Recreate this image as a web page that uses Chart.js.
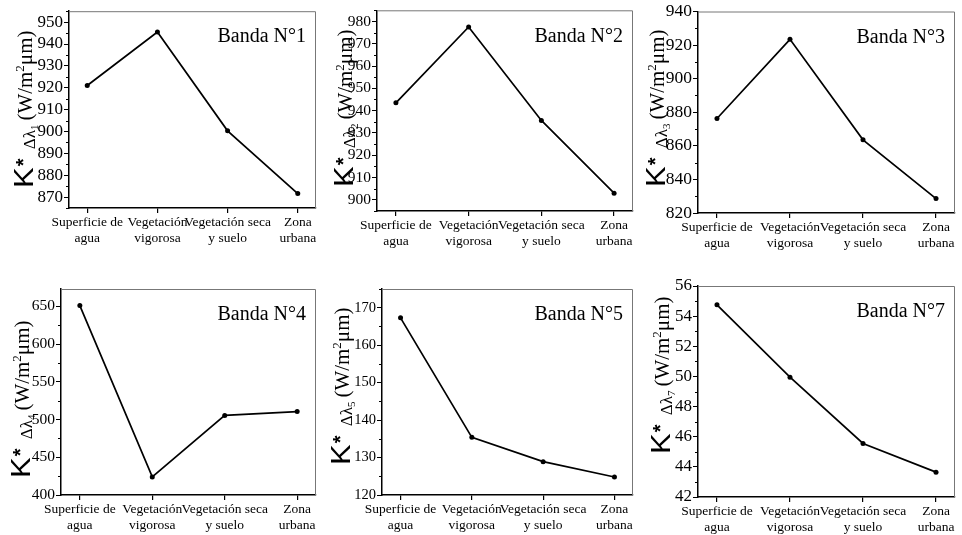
<!DOCTYPE html>
<html>
<head>
<meta charset="utf-8">
<script src="https://cdn.jsdelivr.net/npm/chart.js@4"></script>
<style>
  html, body { margin: 0; padding: 0; background: #fff; }
  body { width: 962px; height: 535px; position: relative; overflow: hidden; }
  canvas { position: absolute; }
</style>
</head>
<body>
<script>
// --- DATA ---
const categories = [
  ["Superficie de", "agua"],
  ["Vegetación", "vigorosa"],
  ["Vegetación seca", "y suelo"],
  ["Zona", "urbana"],
];
const band1 = [921, 945.5, 900.3, 871.6];
const band2 = [943.5, 977.5, 935.6, 903];
const band3 = [876.3, 923.4, 863.6, 828.6];
const band4 = [651, 424, 505.5, 510.5];
const band5 = [167.3, 135.4, 128.9, 124.8];
const band7 = [54.75, 49.95, 45.55, 43.65];
const bandTitles = ["Banda N°1", "Banda N°2", "Banda N°3", "Banda N°4", "Banda N°5", "Banda N°7"];
const bandIndex = ["1", "2", "3", "4", "5", "7"];

// y axis: [min, max, major step, minor step]
const yRanges = [
  [865, 955, 10, 5],
  [895, 985, 10, 5],
  [820, 940, 20, 10],
  [400, 673, 50, 25],
  [120, 175, 10, 5],
  [42, 56, 2, 1],
];
const series = [band1, band2, band3, band4, band5, band7];

// --- LAYOUT (canvas boxes, plot area offsets, label anchor, tick font) ---
const panels = [
  { x: 0,   y: 0,   w: 320, h: 260, yw: 69, top: 9,  right: 4, xh: 52, lx: 33, ly: 188, tf: 17 },
  { x: 320, y: 0,   w: 318, h: 260, yw: 57, top: 9,  right: 5, xh: 49, lx: 33, ly: 187, tf: 15.5 },
  { x: 638, y: 0,   w: 324, h: 260, yw: 60, top: 9,  right: 7, xh: 47, lx: 27, ly: 187, tf: 17.5 },
  { x: 0,   y: 265, w: 320, h: 270, yw: 61, top: 24, right: 2, xh: 40, lx: 30, ly: 213, tf: 15.5 },
  { x: 320, y: 265, w: 318, h: 270, yw: 62, top: 24, right: 5, xh: 40, lx: 30, ly: 200, tf: 14.5 },
  { x: 638, y: 265, w: 324, h: 270, yw: 60, top: 21, right: 7, xh: 38, lx: 32, ly: 189, tf: 17 },
];

const SERIF = '"Liberation Serif", "Times New Roman", serif';
const SANS = '"Liberation Sans", Arial, sans-serif';

Chart.defaults.color = "#000";

function majorTicks(r) {
  const out = [];
  for (let v = Math.ceil(r[0] / r[2]) * r[2]; v <= r[1] + 1e-9; v += r[2]) out.push({ value: v });
  return out;
}

// frame, minor ticks, band title and the y axis label
const decorPlugin = {
  id: "decor",
  afterDraw(chart, args, opts) {
    const ctx = chart.ctx;
    const a = chart.chartArea;
    const yScale = chart.scales.y;
    const i = opts.index;
    const p = panels[i];

    ctx.save();
    // top / right frame lines
    ctx.strokeStyle = "#777";
    ctx.lineWidth = 1;
    ctx.beginPath();
    ctx.moveTo(a.left, a.top + 0.5);
    ctx.lineTo(a.right - 0.5, a.top + 0.5);
    ctx.lineTo(a.right - 0.5, a.bottom);
    ctx.stroke();

    // minor ticks
    const r = yRanges[i];
    ctx.strokeStyle = "#000";
    ctx.lineWidth = 1;
    ctx.beginPath();
    for (let v = Math.ceil(r[0] / r[3]) * r[3]; v <= r[1] + 1e-9; v += r[3]) {
      const rem = Math.abs(v / r[2] - Math.round(v / r[2]));
      if (rem < 1e-6) continue;
      const py = Math.round(yScale.getPixelForValue(v)) + 0.5;
      ctx.moveTo(a.left - 3, py);
      ctx.lineTo(a.left, py);
    }
    ctx.stroke();

    // band title
    ctx.fillStyle = "#000";
    ctx.font = "20px " + SERIF;
    ctx.textAlign = "right";
    ctx.textBaseline = "middle";
    ctx.fillText(bandTitles[i], a.right - 10, a.top + 26);

    // y axis label: K*Δλn (W/m²μm)
    ctx.translate(p.lx, p.ly);
    ctx.rotate(-Math.PI / 2);
    ctx.textAlign = "left";
    ctx.textBaseline = "alphabetic";
    let x = 0;
    ctx.save();
    ctx.scale(1.15, 1);
    ctx.font = "27px " + SANS;
    ctx.fillText("K", 0, 0);
    x += ctx.measureText("K").width * 1.15;
    ctx.restore();
    ctx.font = "bold 20px " + SANS;
    ctx.fillText("*", x + 1, -3);
    x += 18;
    ctx.font = "17px " + SERIF;
    ctx.fillText("Δλ", x, 2);
    x += ctx.measureText("Δλ").width;
    ctx.font = "11px " + SERIF;
    ctx.fillText(bandIndex[i], x, 5);
    x += ctx.measureText(bandIndex[i]).width + 4;
    ctx.font = "21px " + SERIF;
    ctx.fillText("(W/m", x, -1);
    x += ctx.measureText("(W/m").width;
    ctx.font = "13px " + SERIF;
    ctx.fillText("2", x, -9);
    x += ctx.measureText("2").width;
    ctx.font = "21px " + SERIF;
    ctx.fillText("μm)", x, -1);
    ctx.restore();
  },
};

function makeChart(i) {
  const p = panels[i];
  const r = yRanges[i];
  const cv = document.createElement("canvas");
  cv.width = p.w;
  cv.height = p.h;
  cv.style.left = p.x + "px";
  cv.style.top = p.y + "px";
  document.body.appendChild(cv);

  new Chart(cv, {
    type: "line",
    data: {
      datasets: [
        {
          data: series[i].map((v, k) => ({ x: k, y: v })),
          borderColor: "#000",
          borderWidth: 1.7,
          pointRadius: 2.5,
          pointBackgroundColor: "#000",
          pointBorderWidth: 0,
          tension: 0,
        },
      ],
    },
    options: {
      responsive: false,
      animation: false,
      events: [],
      layout: { padding: { top: p.top, right: p.right, left: 0, bottom: 0 } },
      plugins: {
        legend: { display: false },
        tooltip: { enabled: false },
        decor: { index: i },
      },
      scales: {
        x: {
          type: "linear",
          min: -0.26,
          max: 3.26,
          border: { color: "#000", width: 1.5 },
          grid: { drawOnChartArea: false, tickLength: 5, color: "#000", lineWidth: 1.2 },
          ticks: {
            stepSize: 1,
            includeBounds: false,
            autoSkip: false,
            maxRotation: 0,
            padding: 2,
            font: { family: SERIF, size: 13.5, lineHeight: 1.15 },
            callback: (v) => (Number.isInteger(v) ? categories[Math.abs(v)] : ""),
          },
          afterFit: (s) => { s.height = p.xh; },
        },
        y: {
          min: r[0],
          max: r[1],
          border: { color: "#000", width: 1.5 },
          grid: { drawOnChartArea: false, tickLength: 5, color: "#000", lineWidth: 1 },
          ticks: {
            padding: 1,
            font: { family: SERIF, size: p.tf },
          },
          afterBuildTicks: (s) => { s.ticks = majorTicks(r); },
          afterFit: (s) => { s.width = p.yw; },
        },
      },
    },
    plugins: [decorPlugin],
  });
}

for (let i = 0; i < 6; i++) makeChart(i);
</script>
</body>
</html>
